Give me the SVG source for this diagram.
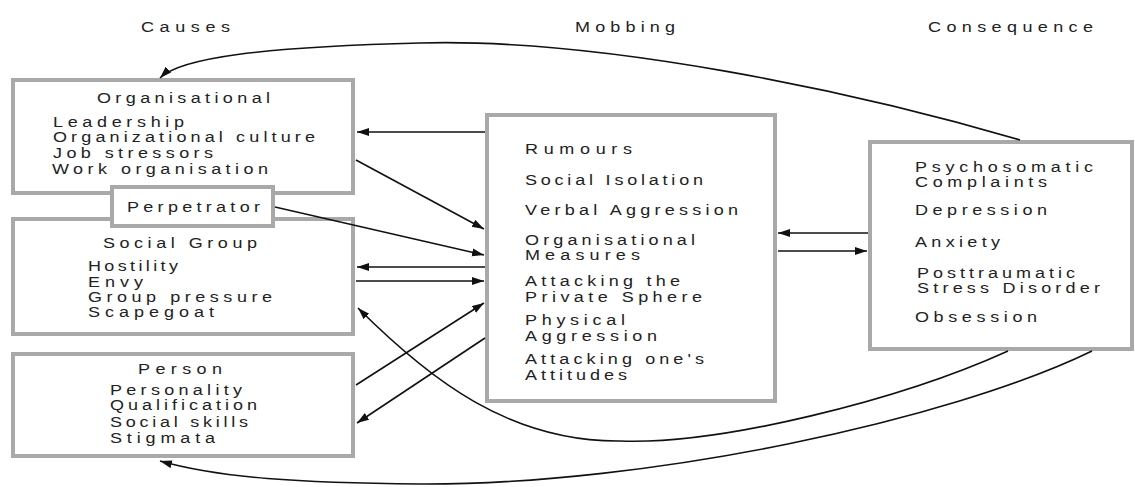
<svg xmlns="http://www.w3.org/2000/svg" width="1135" height="487" viewBox="0 0 1135 487">
<style>
.box{fill:#fff;stroke:#a9a9a9;stroke-width:4}
.t{font-family:"Liberation Sans",Arial,sans-serif;font-size:15px;fill:#222}
.c{fill:none;stroke:#111;stroke-width:1.6}
</style>
<defs>
<marker id="ah" markerUnits="userSpaceOnUse" markerWidth="14" markerHeight="9" refX="12" refY="4" orient="auto">
<path d="M0,0 L12,4 L0,8 z" fill="#111"/>
</marker>
</defs>
<rect width="1135" height="487" fill="#fff"/>
<g id="headers">
<text class="t" transform="translate(141,32) scale(1.2,1)" textLength="74.2" lengthAdjust="spacing">Causes</text>
<text class="t" transform="translate(575,32) scale(1.2,1)" textLength="83.3" lengthAdjust="spacing">Mobbing</text>
<text class="t" transform="translate(928,32) scale(1.2,1)" textLength="137.5" lengthAdjust="spacing">Consequence</text>
</g>
<g id="organisational">
<rect class="box" x="13" y="80" width="340" height="113"/>
<text class="t" transform="translate(97,103) scale(1.2,1)" textLength="144.2" lengthAdjust="spacing">Organisational</text>
<text class="t" transform="translate(53,127) scale(1.2,1)" textLength="109.2" lengthAdjust="spacing">Leadership</text>
<text class="t" transform="translate(53,142) scale(1.2,1)" textLength="218.3" lengthAdjust="spacing">Organizational culture</text>
<text class="t" transform="translate(53,158) scale(1.2,1)" textLength="133.3" lengthAdjust="spacing">Job stressors</text>
<text class="t" transform="translate(52,174) scale(1.2,1)" textLength="180" lengthAdjust="spacing">Work organisation</text>
</g>
<g id="social-group">
<rect class="box" x="13" y="219" width="340" height="115"/>
<text class="t" transform="translate(103,248) scale(1.2,1)" textLength="128.3" lengthAdjust="spacing">Social Group</text>
<text class="t" transform="translate(88,271) scale(1.2,1)" textLength="75" lengthAdjust="spacing">Hostility</text>
<text class="t" transform="translate(88,287) scale(1.2,1)" textLength="45.8" lengthAdjust="spacing">Envy</text>
<text class="t" transform="translate(88,302) scale(1.2,1)" textLength="153.3" lengthAdjust="spacing">Group pressure</text>
<text class="t" transform="translate(88,317) scale(1.2,1)" textLength="105" lengthAdjust="spacing">Scapegoat</text>
</g>
<g id="perpetrator">
<rect class="box" x="112" y="187" width="161" height="39"/>
<text class="t" transform="translate(127,212) scale(1.2,1)" textLength="110.8" lengthAdjust="spacing">Perpetrator</text>
</g>
<g id="person">
<rect class="box" x="13" y="354" width="340" height="102"/>
<text class="t" transform="translate(138,374) scale(1.2,1)" textLength="70" lengthAdjust="spacing">Person</text>
<text class="t" transform="translate(110,395) scale(1.2,1)" textLength="110" lengthAdjust="spacing">Personality</text>
<text class="t" transform="translate(110,410) scale(1.2,1)" textLength="122.5" lengthAdjust="spacing">Qualification</text>
<text class="t" transform="translate(110,427) scale(1.2,1)" textLength="115" lengthAdjust="spacing">Social skills</text>
<text class="t" transform="translate(110,443) scale(1.2,1)" textLength="87.5" lengthAdjust="spacing">Stigmata</text>
</g>
<g id="mobbing">
<rect class="box" x="487" y="115" width="288" height="286"/>
<text class="t" transform="translate(525,154) scale(1.2,1)" textLength="89.2" lengthAdjust="spacing">Rumours</text>
<text class="t" transform="translate(525,185) scale(1.2,1)" textLength="148.3" lengthAdjust="spacing">Social Isolation</text>
<text class="t" transform="translate(525,215) scale(1.2,1)" textLength="177.5" lengthAdjust="spacing">Verbal Aggression</text>
<text class="t" transform="translate(525,245) scale(1.2,1)" textLength="141.7" lengthAdjust="spacing">Organisational</text>
<text class="t" transform="translate(525,260) scale(1.2,1)" textLength="95.8" lengthAdjust="spacing">Measures</text>
<text class="t" transform="translate(525,286) scale(1.2,1)" textLength="129.2" lengthAdjust="spacing">Attacking the</text>
<text class="t" transform="translate(525,302) scale(1.2,1)" textLength="147.5" lengthAdjust="spacing">Private Sphere</text>
<text class="t" transform="translate(525,325) scale(1.2,1)" textLength="83.3" lengthAdjust="spacing">Physical</text>
<text class="t" transform="translate(525,341) scale(1.2,1)" textLength="110" lengthAdjust="spacing">Aggression</text>
<text class="t" transform="translate(525,364) scale(1.2,1)" textLength="149.2" lengthAdjust="spacing">Attacking one's</text>
<text class="t" transform="translate(525,380) scale(1.2,1)" textLength="85" lengthAdjust="spacing">Attitudes</text>
</g>
<g id="consequence">
<rect class="box" x="870" y="142" width="262" height="207"/>
<text class="t" transform="translate(915,172) scale(1.2,1)" textLength="148.3" lengthAdjust="spacing">Psychosomatic</text>
<text class="t" transform="translate(915,187) scale(1.2,1)" textLength="110" lengthAdjust="spacing">Complaints</text>
<text class="t" transform="translate(915,215) scale(1.2,1)" textLength="110" lengthAdjust="spacing">Depression</text>
<text class="t" transform="translate(915,247) scale(1.2,1)" textLength="70.8" lengthAdjust="spacing">Anxiety</text>
<text class="t" transform="translate(917,278) scale(1.2,1)" textLength="131.7" lengthAdjust="spacing">Posttraumatic</text>
<text class="t" transform="translate(917,293) scale(1.2,1)" textLength="152.5" lengthAdjust="spacing">Stress Disorder</text>
<text class="t" transform="translate(915,322) scale(1.2,1)" textLength="101.7" lengthAdjust="spacing">Obsession</text>
</g>
<g id="connectors">
<path class="c" d="M485,132 L357,132" marker-end="url(#ah)"/>
<path class="c" d="M356,160 L484,229" marker-end="url(#ah)"/>
<path class="c" d="M275,207 L484,255" marker-end="url(#ah)"/>
<path class="c" d="M485,267 L357,267" marker-end="url(#ah)"/>
<path class="c" d="M356,281 L484,281" marker-end="url(#ah)"/>
<path class="c" d="M356,385 L484,303" marker-end="url(#ah)"/>
<path class="c" d="M485,338 L357,423" marker-end="url(#ah)"/>
<path class="c" d="M868,233 L778,233" marker-end="url(#ah)"/>
<path class="c" d="M778,251 L867,251" marker-end="url(#ah)"/>
<path class="c" d="M1020,140 C850,90 600,38 420,43 C260,47 180,58 160,78" marker-end="url(#ah)"/>
<path class="c" d="M1008,351 C900,400 720,445 620,441 C510,442 430,380 358,308" marker-end="url(#ah)"/>
<path class="c" d="M1092,351 C950,420 650,485 420,484 C300,483 220,478 160,461" marker-end="url(#ah)"/>
</g>
</svg>
